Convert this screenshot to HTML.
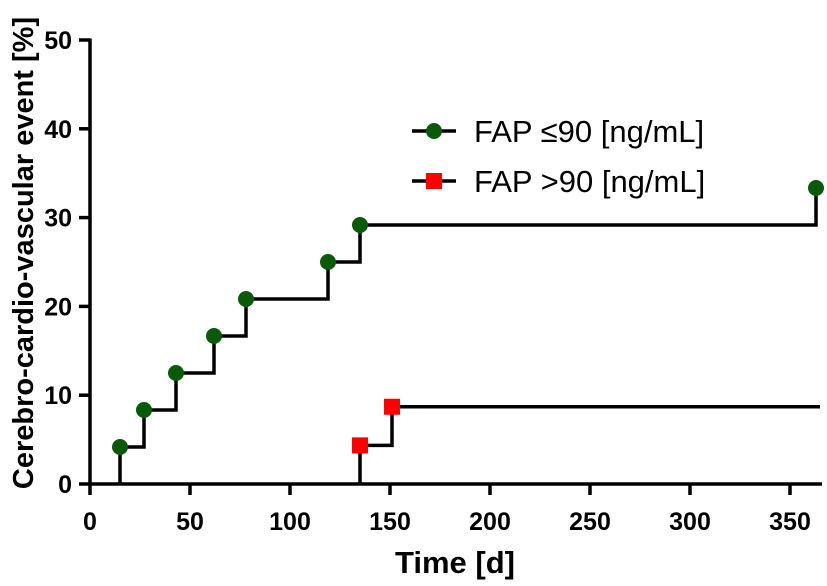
<!DOCTYPE html>
<html><head><meta charset="utf-8"><style>
body{margin:0;background:#fff;width:827px;height:581px;overflow:hidden}
text{font-family:"Liberation Sans",Arial,sans-serif;font-weight:bold}
</style></head><body>
<svg id="chart" width="827" height="581" viewBox="0 0 827 581" xmlns="http://www.w3.org/2000/svg"></svg>
<script>
const xTicks=[0,50,100,150,200,250,300,350];
const yTicks=[0,10,20,30,40,50];
const greenDays=[15,27,43,62,78,119,135,363];
const greenVals=[4.17,8.33,12.5,16.67,20.83,25,29.17,33.33];
const redDays=[135,151];
const redVals=[4.35,8.7];
const redEnd=365;
const X=d=>90+d*2, Y=v=>484-v*8.88;
const NS="http://www.w3.org/2000/svg";
const svg=document.getElementById('chart');
function mk(t,a,p){const e=document.createElementNS(NS,t);for(const k in a)e.setAttribute(k,a[k]);(p||svg).appendChild(e);return e;}
const ax=mk('line',{x1:88,y1:Y(0),x2:822,y2:Y(0),stroke:'#000','stroke-width':3.5});

const ay=mk('line',{x1:90,y1:Y(0)+1.5,x2:90,y2:Y(50)-1.5,stroke:'#000','stroke-width':3.5});

xTicks.forEach(t=>{
 const l=mk('line',{x1:X(t),y1:Y(0),x2:X(t),y2:Y(0)+11,stroke:'#000','stroke-width':3.5});
 
 const tx=mk('text',{x:X(t),y:530,'text-anchor':'middle','font-size':25});tx.textContent=t;
 
});
yTicks.forEach(t=>{
 const l=mk('line',{x1:79,y1:Y(t),x2:90,y2:Y(t),stroke:'#000','stroke-width':3.5});
 
 const tx=mk('text',{x:72,y:Y(t)+9,'text-anchor':'end','font-size':25});tx.textContent=t;
 
});
const xt=mk('text',{x:455,y:573,'text-anchor':'middle','font-size':31});xt.textContent='Time [d]';

const yt=mk('text',{x:0,y:0,'text-anchor':'middle','font-size':29,transform:'translate(33,253) rotate(-90)'});yt.textContent='Cerebro-cardio-vascular event [%]';

function stepPath(days,vals,end){
 let d=`M${X(days[0])},${Y(0)}`;
 for(let i=0;i<days.length;i++){
  d+=` L${X(days[i])},${Y(vals[i])}`;
  const nx=i+1<days.length?days[i+1]:end;
  if(nx!==undefined&&nx>days[i]) d+=` L${X(nx)},${Y(vals[i])}`;
 }
 return d;
}
const gp=mk('path',{d:stepPath(greenDays,greenVals,greenDays[greenDays.length-1]),fill:'none',stroke:'#000','stroke-width':3.5});

const rp=mk('path',{d:stepPath(redDays,redVals,redEnd),fill:'none',stroke:'#000','stroke-width':3.5});

greenDays.forEach((d,i)=>{
 const c=mk('circle',{cx:X(d),cy:Y(greenVals[i]),r:8,fill:'#0a5a0a'});
 
});
redDays.forEach((d,i)=>{
 const r=mk('rect',{x:X(d)-8,y:Y(redVals[i])-8,width:16,height:16,fill:'#ff0000'});
 
});
const lg=mk('g',{});
mk('line',{x1:412,y1:131,x2:456,y2:131,stroke:'#000','stroke-width':3.5},lg);
mk('circle',{cx:434,cy:131,r:8,fill:'#0a5a0a'},lg);
const l1=mk('text',{x:474,y:142,'font-size':31,style:'font-weight:normal'},lg);l1.textContent='FAP ≤90 [ng/mL]';

mk('line',{x1:412,y1:181,x2:456,y2:181,stroke:'#000','stroke-width':3.5},lg);
mk('rect',{x:426,y:173,width:16,height:16,fill:'#ff0000'},lg);
const l2=mk('text',{x:474,y:192,'font-size':31,style:'font-weight:normal'},lg);l2.textContent='FAP >90 [ng/mL]';

</script>
</body></html>
